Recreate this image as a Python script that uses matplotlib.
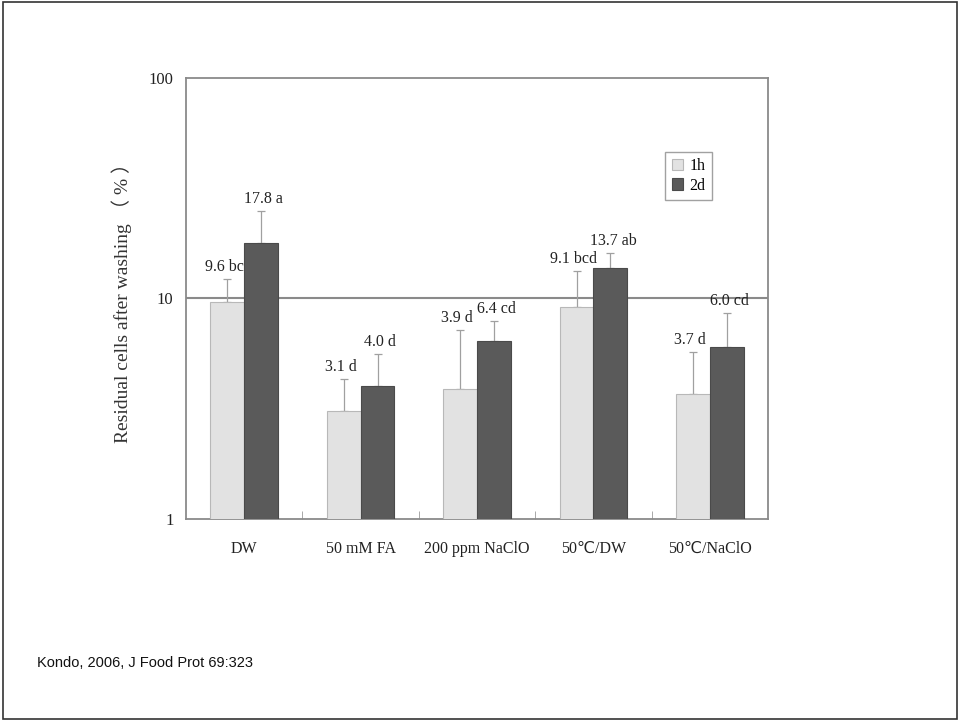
import matplotlib
matplotlib.use("Agg")
import matplotlib.pyplot as plt
import numpy as np
from matplotlib.patches import Rectangle

categories = ["DW", "50 mM FA", "200 ppm NaClO", "50℃/DW", "50℃/NaClO"]
series_names = ["1h", "2d"]
vals_1h = [9.6, 3.1, 3.9, 9.1, 3.7]
vals_2d = [17.8, 4.0, 6.4, 13.7, 6.0]
err_1h = [2.6, 1.2, 3.3, 4.2, 2.0]
err_2d = [7.1, 1.6, 1.5, 2.3, 2.6]
labels_1h = ["9.6 bc", "3.1 d", "3.9 d", "9.1 bcd", "3.7 d"]
labels_2d = ["17.8 a", "4.0 d", "6.4 cd", "13.7 ab", "6.0 cd"]

serif = ["Liberation Serif", "DejaVu Serif", "Noto Sans CJK JP"]
plt.rcParams['font.family'] = serif

fig = plt.figure(figsize=(9.6, 7.21), dpi=100)
ax = fig.add_axes([0.1938, 0.2802, 0.6062, 0.6117])

x = np.arange(len(categories))
w = 0.29
c1 = "#e2e2e2"
c2 = "#5a5a5a"
ecol = "#a0a0a0"

b1 = ax.bar(x - w / 2, vals_1h, w, color=c1, edgecolor="#b8b8b8", linewidth=0.8,
            label=series_names[0], zorder=3)
b2 = ax.bar(x + w / 2, vals_2d, w, color=c2, edgecolor="#4a4a4a", linewidth=0.8,
            label=series_names[1], zorder=3)
ax.errorbar(x - w / 2, vals_1h, yerr=[np.zeros(len(x)), err_1h], fmt="none",
            ecolor=ecol, elinewidth=0.9, capsize=3, capthick=0.9, zorder=2)
ax.errorbar(x + w / 2, vals_2d, yerr=[np.zeros(len(x)), err_2d], fmt="none",
            ecolor=ecol, elinewidth=0.9, capsize=3, capthick=0.9, zorder=2)

for xi, v, e, t in zip(x - w / 2, vals_1h, err_1h, labels_1h):
    ax.annotate(t, (xi, v + e), xytext=(-2, 3), textcoords="offset points",
                ha="center", va="bottom", fontsize=11.5, color="#222222")
for xi, v, e, t in zip(x + w / 2, vals_2d, err_2d, labels_2d):
    ax.annotate(t, (xi, v + e), xytext=(2, 3), textcoords="offset points",
                ha="center", va="bottom", fontsize=11.5, color="#222222")

ax.set_yscale("log")
ax.set_ylim(1, 100)
ax.set_xlim(-0.5, len(categories) - 0.5)
ax.set_yticks([1, 10, 100])
ax.set_yticklabels(["1", "10", "100"], fontsize=12)
ax.yaxis.set_minor_locator(matplotlib.ticker.NullLocator())
ax.tick_params(axis="y", length=0, pad=9, labelcolor="#222222")
ax.set_xticks(x)
ax.set_xticklabels(categories, fontsize=11.5, color="#222222",
                   fontfamily=["Liberation Serif", "DejaVu Sans"])
ax.tick_params(axis="x", length=0, pad=16)
ax.set_xticks(np.arange(0.5, len(categories) - 0.5, 1.0), minor=True)
ax.tick_params(axis="x", which="minor", direction="in", length=6, color="#9a9a9a")

ax.axhline(10, color="#8a8a8a", linewidth=1.5, zorder=1)
for s in ax.spines.values():
    s.set_color("#8a8a8a")
    s.set_linewidth(1.3)

ax.set_ylabel("Residual cells after washing （ % ）", fontsize=14,
              color="#333333", labelpad=12,
              fontfamily=["Liberation Serif", "Noto Sans CJK JP"])

leg = ax.legend(loc="upper left", bbox_to_anchor=(0.81, 0.85), fontsize=11.5,
                frameon=True, fancybox=False, handlelength=0.7, handleheight=0.7,
                handletextpad=0.4, borderpad=0.4, labelspacing=0.2)
leg.get_frame().set_edgecolor("#8a8a8a")
leg.get_frame().set_linewidth(1.0)

fig.text(37 / 960, 1 - 663 / 721, "Kondo, 2006, J Food Prot 69:323",
         fontsize=10.5, va="center", ha="left", color="#111111",
         fontfamily=["Liberation Sans"])

fig.patches.append(Rectangle((0.003, 0.003), 0.994, 0.994, transform=fig.transFigure,
                             fill=False, edgecolor="#333333", linewidth=1.2))

fig.savefig("out.png", dpi=100)
